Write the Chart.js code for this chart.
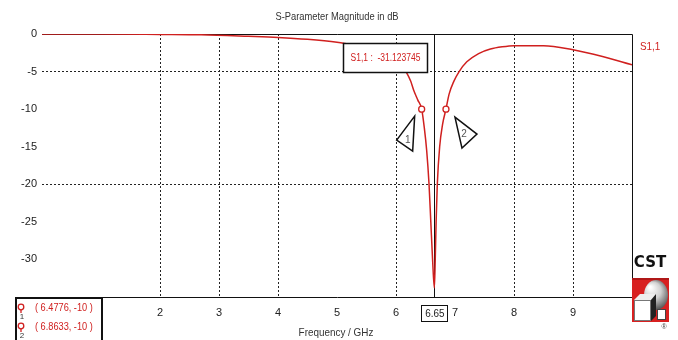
<!DOCTYPE html>
<html>
<head>
<meta charset="utf-8">
<script src="https://cdn.jsdelivr.net/npm/chart.js@4"></script>
<style>
  html, body { margin: 0; padding: 0; background: #fff; }
  #wrap { width: 678px; height: 340px; }
</style>
</head>
<body>
<div id="wrap"><canvas id="myChart" width="678" height="340"></canvas></div>
<script>
// S1,1 magnitude
var freqGHz = [0, 1, 2, 2.7, 3.5, 4, 4.5, 5, 5.3, 5.6, 5.8, 6.0, 6.1, 6.17, 6.25, 6.3, 6.37, 6.435, 6.48, 6.52, 6.56, 6.59, 6.62, 6.65,
               6.665, 6.68, 6.70, 6.74, 6.79, 6.847, 6.9, 6.98, 7.07, 7.2, 7.4, 7.6, 7.8, 8.0, 8.5, 9.0, 9.5, 10];
var s11dB   = [0, 0, -0.05, -0.1, -0.3, -0.45, -0.7, -1.1, -1.5, -2.0, -2.5, -3.3, -4.2, -5, -6.3, -7.5, -8.8, -10, -12.5, -15.5, -20, -25, -30, -33.8,
               -30, -25, -20, -15, -12, -10, -8, -6.3, -5, -3.7, -2.6, -2.0, -1.7, -1.55, -1.55, -2.1, -3.0, -4.1];

// markers
var markerFreqs = [6.435, 6.847];
var markerLevel = -10;
var markerTexts = ['( 6.4776, -10 )', '( 6.8633, -10 )'];
var minMarkerFreq = 6.65;
var minMarkerText = 'S1,1 :  -31.123745';

// axes
var xGridValues = [2, 3, 4, 6, 8, 9];
var yGridValues = [-5, -20];
var hiddenXLabels = [0, 1, 10];

var RED = '#d0201f';
var FONT = '"Liberation Sans", sans-serif';

var points = freqGHz.map(function (f, i) { return { x: f, y: s11dB[i] }; });
var markerPts = markerFreqs.map(function (f) { return { x: f, y: markerLevel }; });

// squeeze text horizontally, the original uses a narrow font
function narrowText(ctx, text, x, y, sx) {
    ctx.save();
    ctx.translate(x, y);
    ctx.scale(sx, 1);
    ctx.fillText(text, 0, 0);
    ctx.restore();
}

var overlay = {
    id: 'overlay',
    beforeDatasetsDraw: function (chart) {
        var ctx = chart.ctx, a = chart.chartArea, x = chart.scales.x;
        ctx.save();
        ctx.strokeStyle = '#111';
        ctx.lineWidth = 1;
        // top and right frame
        ctx.beginPath();
        ctx.moveTo(a.left, a.top + 0.5);
        ctx.lineTo(a.right + 0.5, a.top + 0.5);
        ctx.lineTo(a.right + 0.5, a.bottom);
        ctx.stroke();
        // marker line at minimum
        var mx = Math.round(x.getPixelForValue(minMarkerFreq)) + 0.5;
        ctx.beginPath();
        ctx.moveTo(mx, a.top);
        ctx.lineTo(mx, a.bottom);
        ctx.stroke();
        ctx.restore();
    },
    afterDraw: function (chart) {
        var ctx = chart.ctx, x = chart.scales.x, y = chart.scales.y;
        ctx.save();
        ctx.textBaseline = 'middle';

        // title + axis title
        ctx.fillStyle = '#333';
        ctx.font = '11px ' + FONT;
        ctx.textAlign = 'center';
        narrowText(ctx, 'S-Parameter Magnitude in dB', 337, 17, 0.85);
        narrowText(ctx, 'Frequency / GHz', 336, 333, 0.9);

        // curve label on right
        ctx.fillStyle = RED;
        ctx.textAlign = 'left';
        narrowText(ctx, 'S1,1', 640, 47, 0.9);

        // min marker value box
        ctx.fillStyle = '#fff';
        ctx.fillRect(343, 43, 85, 30);
        ctx.strokeStyle = '#111';
        ctx.lineWidth = 1.5;
        ctx.strokeRect(343.5, 43.5, 84, 29);
        ctx.fillStyle = RED;
        ctx.font = '10px ' + FONT;
        ctx.textAlign = 'center';
        narrowText(ctx, minMarkerText, 385.5, 58, 0.85);

        // boxed frequency under the axis
        var mx = x.getPixelForValue(minMarkerFreq);
        ctx.fillStyle = '#fff';
        ctx.fillRect(mx - 13, 305, 27, 17);
        ctx.strokeStyle = '#111';
        ctx.lineWidth = 1;
        ctx.strokeRect(Math.round(mx) - 12.5, 305.5, 26, 16);
        ctx.fillStyle = '#222';
        ctx.font = '11px ' + FONT;
        narrowText(ctx, String(minMarkerFreq), mx + 0.5, 314, 0.9);

        // triangle flags beside the markers
        var p1x = x.getPixelForValue(markerFreqs[0]), p2x = x.getPixelForValue(markerFreqs[1]);
        var py = y.getPixelForValue(markerLevel);
        ctx.strokeStyle = '#111';
        ctx.lineWidth = 1.5;
        ctx.fillStyle = '#fff';
        ctx.beginPath();
        ctx.moveTo(p1x - 25, py + 31);
        ctx.lineTo(p1x - 7, py + 7);
        ctx.lineTo(p1x - 9, py + 42);
        ctx.closePath();
        ctx.fill(); ctx.stroke();
        ctx.beginPath();
        ctx.moveTo(p2x + 9, py + 8);
        ctx.lineTo(p2x + 31, py + 25);
        ctx.lineTo(p2x + 16, py + 39);
        ctx.closePath();
        ctx.fill(); ctx.stroke();
        ctx.fillStyle = '#555';
        ctx.font = '10px ' + FONT;
        ctx.fillText('1', p1x - 14, py + 31);
        ctx.fillText('2', p2x + 18, py + 25);

        // marker list box bottom left
        ctx.fillStyle = '#fff';
        ctx.fillRect(15, 297, 88, 43);
        ctx.strokeStyle = '#111';
        ctx.lineWidth = 2;
        ctx.strokeRect(16, 298, 86, 44);
        for (var i = 0; i < markerTexts.length; i++) {
            var ly = 307 + i * 19;
            ctx.strokeStyle = RED;
            ctx.lineWidth = 1.3;
            ctx.beginPath();
            ctx.arc(21, ly, 2.8, 0, Math.PI * 2);
            ctx.stroke();
            ctx.beginPath();
            ctx.moveTo(21, ly + 3); ctx.lineTo(21, ly + 6);
            ctx.stroke();
            ctx.fillStyle = '#333';
            ctx.font = '8px ' + FONT;
            ctx.textAlign = 'center';
            ctx.fillText(String(i + 1), 22, ly + 10);
            ctx.fillStyle = RED;
            ctx.font = '10px ' + FONT;
            ctx.textAlign = 'left';
            narrowText(ctx, markerTexts[i], 35, ly + 1, 0.92);
        }

        // CST logo
        ctx.fillStyle = '#fff';
        ctx.fillRect(634, 253, 44, 87);
        ctx.fillStyle = '#111';
        ctx.font = 'bold 15px "DejaVu Sans", sans-serif';
        ctx.textAlign = 'center';
        ctx.fillText('CST', 650, 263);
        ctx.fillStyle = '#d82020';
        ctx.fillRect(632, 278, 37, 44);
        ctx.fillStyle = '#b01818';
        ctx.fillRect(632, 278, 37, 2);
        var g = ctx.createRadialGradient(650, 287, 1, 655, 294, 16);
        g.addColorStop(0, '#ffffff');
        g.addColorStop(0.5, '#d0d0d0');
        g.addColorStop(1, '#505050');
        ctx.fillStyle = g;
        ctx.beginPath();
        ctx.ellipse(656, 295, 12, 15, 0, 0, Math.PI * 2);
        ctx.fill();
        // big white cube
        ctx.fillStyle = '#eee';
        ctx.beginPath();
        ctx.moveTo(634, 300); ctx.lineTo(640, 294); ctx.lineTo(656, 294); ctx.lineTo(651, 300);
        ctx.closePath(); ctx.fill();
        ctx.fillStyle = '#fff';
        ctx.strokeStyle = '#777';
        ctx.lineWidth = 1;
        ctx.fillRect(634, 300, 17, 21);
        ctx.strokeRect(634.5, 300.5, 16, 20);
        ctx.fillStyle = '#222';
        ctx.beginPath();
        ctx.moveTo(651, 300); ctx.lineTo(656, 294); ctx.lineTo(656, 316); ctx.lineTo(651, 321);
        ctx.closePath(); ctx.fill();
        // small cube
        ctx.fillStyle = '#fff';
        ctx.fillRect(657, 309, 9, 11);
        ctx.strokeStyle = '#444';
        ctx.strokeRect(657.5, 309.5, 8, 10);
        ctx.fillStyle = '#444';
        ctx.font = '7px ' + FONT;
        ctx.fillText('\u00AE', 664, 327);

        ctx.restore();
    }
};

var ctx = document.getElementById('myChart').getContext('2d');
window.myChartInstance = new Chart(ctx, {
    type: 'scatter',
    data: {
        datasets: [{
            label: 'S1,1',
            data: points,
            showLine: true,
            borderColor: RED,
            borderWidth: 1.5,
            pointRadius: 0,
            cubicInterpolationMode: 'monotone',
            fill: false,
            order: 2
        }, {
            label: 'markers',
            data: markerPts,
            showLine: false,
            pointRadius: 3,
            pointBorderWidth: 1.3,
            pointBorderColor: RED,
            pointBackgroundColor: '#fff',
            order: 1
        }]
    },
    plugins: [overlay],
    options: {
        responsive: false,
        animation: false,
        devicePixelRatio: 1,
        layout: { padding: { top: 34, right: 46, left: 0, bottom: 0 } },
        plugins: {
            legend: { display: false },
            tooltip: { enabled: false },
            title: { display: false }
        },
        scales: {
            x: {
                type: 'linear',
                min: 0,
                max: 10,
                afterFit: function (s) { s.height = 43; },
                ticks: {
                    stepSize: 1,
                    padding: 9,
                    color: '#222',
                    font: { size: 11, family: FONT },
                    maxRotation: 0,
                    callback: function (v) { return hiddenXLabels.indexOf(v) >= 0 ? '' : String(v); }
                },
                grid: {
                    drawTicks: false,
                    lineWidth: 1,
                    color: function (c) {
                        return c.tick && xGridValues.indexOf(c.tick.value) >= 0 ? '#222' : 'rgba(0,0,0,0)';
                    }
                },
                border: { display: true, color: '#111', width: 1, dash: [2, 2] }
            },
            y: {
                min: -35,
                max: 0,
                afterFit: function (s) { s.width = 42; },
                ticks: {
                    stepSize: 5,
                    padding: 5,
                    color: '#222',
                    font: { size: 11, family: FONT },
                    callback: function (v) { return v === -35 ? '' : String(v); }
                },
                grid: {
                    drawTicks: false,
                    lineWidth: 1,
                    color: function (c) {
                        return c.tick && yGridValues.indexOf(c.tick.value) >= 0 ? '#222' : 'rgba(0,0,0,0)';
                    }
                },
                border: { display: false, dash: [2, 2] }
            }
        }
    }
});
</script>
</body>
</html>
